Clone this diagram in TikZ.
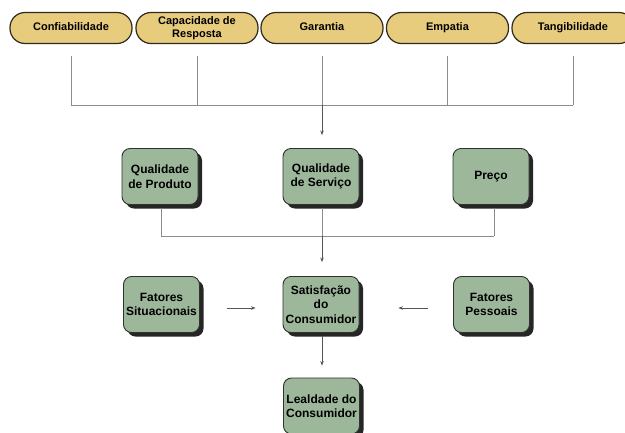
\documentclass[tikz,border=0pt]{standalone}
\usepackage{fontspec}
\setmainfont{Liberation Sans}
\usetikzlibrary{shadows,arrows.meta}
\definecolor{pillfill}{HTML}{E8CC7E}
\definecolor{pillline}{HTML}{2F2A1E}
\definecolor{cardfill}{HTML}{9DB79B}
\definecolor{cardline}{HTML}{2E332E}
\definecolor{shadowc}{HTML}{262626}
\definecolor{wire}{HTML}{8C8C8C}
\definecolor{tipc}{HTML}{555555}
\tikzset{
  pill/.style={rounded corners=15pt, draw=pillline, fill=pillfill, line width=1.2pt,
    minimum width=122pt, minimum height=31pt, inner sep=0pt, align=center,
    font=\bfseries\fontsize{11}{12.5}\selectfont},
  oneline/.style={text height=8pt, text depth=2.4pt},
  card/.style={rounded corners=8pt, draw=cardline, fill=cardfill, line width=0.9pt,
    minimum width=76pt, minimum height=56pt, inner sep=0pt, align=center,
    font=\bfseries\fontsize{12}{14.5}\selectfont,
    drop shadow={shadow xshift=4pt, shadow yshift=-4pt, fill=shadowc, opacity=1}},
  bus/.style={draw=wire, line width=0.9pt},
  arr/.style={draw=tipc, line width=0.9pt, -{Stealth[length=4.5pt,width=3.5pt]}},
}
\begin{document}
\begin{tikzpicture}[x=1pt,y=-1pt]
\useasboundingbox (0,0) rectangle (625,432);

% service quality dimensions
\node[pill,oneline] (p1) at (71,28)    {Confiabilidade};
\node[pill]         (p2) at (197,28)   {Capacidade de\\Resposta};
\node[pill,oneline] (p3) at (322,28)   {Garantia};
\node[pill,oneline] (p4) at (447.5,28) {Empatia};
\node[pill,oneline] (p5) at (573,28)   {Tangibilidade};

% drivers
\node[card] (qp) at (160,176.5) {Qualidade\\de Produto};
\node[card] (qs) at (321,176.5) {Qualidade\\de Serviço};
\node[card,oneline] (pr) at (491,176.5) {Preço};

% satisfaction row
\node[card] (fs) at (161.5,304.5) {Fatores\\Situacionais};
\node[card] (sc) at (321,304.5)   {Satisfação\\do\\Consumidor};
\node[card] (fp) at (491.5,304.5) {Fatores\\Pessoais};

% loyalty
\node[card] (lc) at (321.5,406) {Lealdade do\\Consumidor};

% top bus
\coordinate (topbus) at (322,105);
\foreach \p in {p1,p2,p3,p4,p5}
  \draw[bus, shorten <=12pt] (\p.south) -- (\p.south |- topbus);
\draw[bus] (p1.south |- topbus) -- (p5.south |- topbus);
\draw[arr, shorten >=13pt] (topbus) -- (topbus |- qs.north);

% middle bus
\coordinate (midbus) at (322,236);
\draw[bus, shorten <=3pt] ([xshift=1pt]qp.south) -- ([xshift=1pt]qp.south |- midbus);
\draw[bus, shorten <=3pt] ([xshift=1pt]qs.south) -- ([xshift=1pt]qs.south |- midbus);
\draw[bus, shorten <=3pt] ([xshift=3pt]pr.south) -- ([xshift=3pt]pr.south |- midbus);
\draw[bus] ([xshift=1pt]qp.south |- midbus) -- ([xshift=3pt]pr.south |- midbus);
\draw[arr, shorten >=14pt] (midbus) -- (midbus |- sc.north);

% side influences
\draw[arr, shorten <=27pt, shorten >=27pt] ([yshift=-3.5pt]fs.east) -- ([yshift=-3.5pt]sc.west);
\draw[arr, shorten <=25pt, shorten >=39pt] ([yshift=-3.5pt]fp.west) -- ([yshift=-3.5pt]sc.east);

% satisfaction to loyalty
\draw[arr, shorten <=3pt, shorten >=12pt] ([xshift=1pt]sc.south) -- ([xshift=1pt]sc.south |- lc.north);
\end{tikzpicture}
\end{document}
